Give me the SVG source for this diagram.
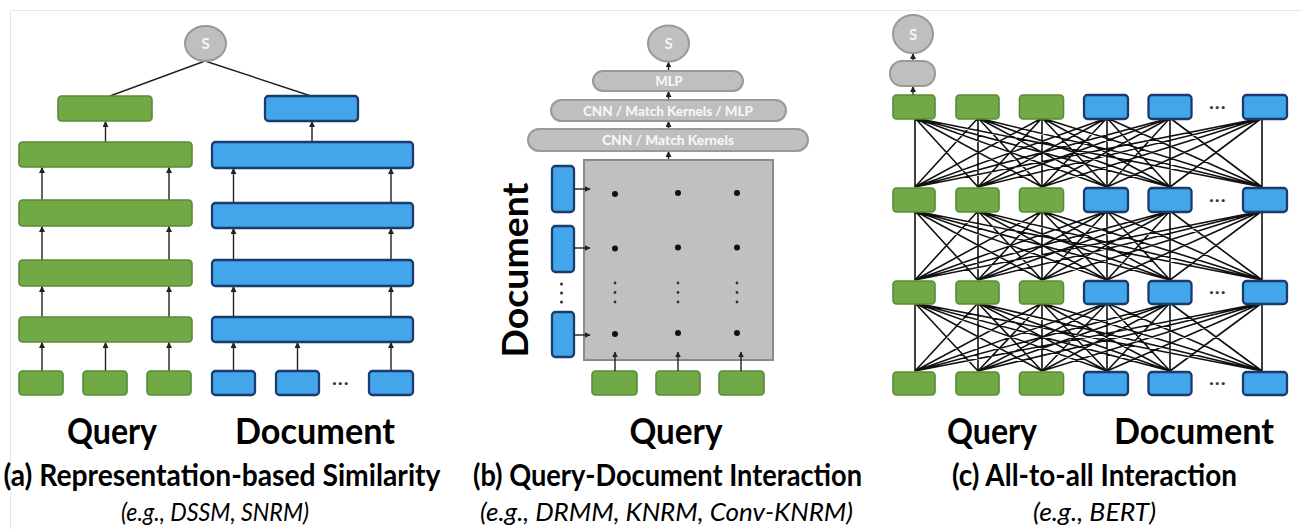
<svg xmlns="http://www.w3.org/2000/svg" width="1302" height="529" viewBox="0 0 1302 529">
  <style>
    .g { fill: #72a947; stroke: #5a8a38; stroke-width: 1.6; }
    .b { fill: #43a5ea; stroke: #1b3b6f; stroke-width: 2.3; }
    .gr { fill: #bfbfbf; stroke: #999; stroke-width: 2; }
    .ln { stroke: #222; stroke-width: 1.4; fill: none; }
    .mesh { stroke: #111; stroke-width: 1.6; fill: none; }
    .txt { font-family: Lato, "Open Sans", "Liberation Sans", sans-serif; font-weight: 700; fill: #000; text-anchor: middle; }
    .lbl { font-size: 36px; }
    .cap { font-size: 30px; }
    .sub { font-size: 26px; font-weight: 400; font-style: italic; }
    .wt { font-size: 13px; fill: #f6f6f6; font-weight: 900; }
    .s { font-size: 15px; fill: #f6f6f6; }
    .dots { font-size: 16px; fill: #333; letter-spacing: 1.5px; }
  </style>
  <defs>
    <marker id="ah" viewBox="0 0 10 10" refX="9" refY="5" markerWidth="6" markerHeight="6" markerUnits="userSpaceOnUse" orient="auto">
      <path d="M0,0 L10,5 L0,10 z" fill="#222"/>
    </marker>
  </defs>

  <!-- faint frame edge -->
  <path d="M10.5 529 V10.5 H1302" fill="none" stroke="#e6e6e6" stroke-width="1"/>

  <!-- ===== connectors ===== -->
  <g id="connectors">
    <!-- (a) score fan-in -->
    <line class="ln" x1="205" y1="61" x2="110" y2="96"/>
    <line class="ln" x1="205" y1="61" x2="311" y2="96"/>
    <!-- (a) query tower -->
    <line class="ln" x1="105.5" y1="142" x2="105.5" y2="121.5" marker-end="url(#ah)"/>
    <line class="ln" x1="42" y1="200" x2="42" y2="167.5" marker-end="url(#ah)"/>
    <line class="ln" x1="169" y1="200" x2="169" y2="167.5" marker-end="url(#ah)"/>
    <line class="ln" x1="42" y1="260" x2="42" y2="226.5" marker-end="url(#ah)"/>
    <line class="ln" x1="169" y1="260" x2="169" y2="226.5" marker-end="url(#ah)"/>
    <line class="ln" x1="42" y1="317" x2="42" y2="286.5" marker-end="url(#ah)"/>
    <line class="ln" x1="169" y1="317" x2="169" y2="286.5" marker-end="url(#ah)"/>
    <line class="ln" x1="42" y1="371" x2="42" y2="342.5" marker-end="url(#ah)"/>
    <line class="ln" x1="105.5" y1="371" x2="105.5" y2="342.5" marker-end="url(#ah)"/>
    <line class="ln" x1="169" y1="371" x2="169" y2="342.5" marker-end="url(#ah)"/>
    <!-- (a) document tower -->
    <line class="ln" x1="312" y1="142" x2="312" y2="121.5" marker-end="url(#ah)"/>
    <line class="ln" x1="233.5" y1="203" x2="233.5" y2="168.5" marker-end="url(#ah)"/>
    <line class="ln" x1="391" y1="203" x2="391" y2="168.5" marker-end="url(#ah)"/>
    <line class="ln" x1="233.5" y1="260" x2="233.5" y2="228.5" marker-end="url(#ah)"/>
    <line class="ln" x1="391" y1="260" x2="391" y2="228.5" marker-end="url(#ah)"/>
    <line class="ln" x1="233.5" y1="317" x2="233.5" y2="286.5" marker-end="url(#ah)"/>
    <line class="ln" x1="391" y1="317" x2="391" y2="286.5" marker-end="url(#ah)"/>
    <line class="ln" x1="233.5" y1="371" x2="233.5" y2="342.5" marker-end="url(#ah)"/>
    <line class="ln" x1="297.5" y1="371" x2="297.5" y2="342.5" marker-end="url(#ah)"/>
    <line class="ln" x1="391" y1="371" x2="391" y2="342.5" marker-end="url(#ah)"/>

    <!-- (b) stack -->
    <line class="ln" x1="668.5" y1="71" x2="668.5" y2="62" marker-end="url(#ah)"/>
    <line class="ln" x1="668.5" y1="100" x2="668.5" y2="91.5" marker-end="url(#ah)"/>
    <line class="ln" x1="668.5" y1="129" x2="668.5" y2="121.5" marker-end="url(#ah)"/>
    <line class="ln" x1="668.5" y1="160" x2="668.5" y2="151.5" marker-end="url(#ah)"/>

    <!-- (c) head -->
    <line class="ln" x1="913" y1="95" x2="913" y2="86.5" marker-end="url(#ah)"/>
    <line class="ln" x1="913" y1="61" x2="913" y2="53.5" marker-end="url(#ah)"/>

    <!-- (c) all-to-all mesh, layer 1 -> 2 -->
    <path class="mesh" d="M915 118L915 187M915 118L978 187M915 118L1042 187M915 118L1107 187M915 118L1170 187M915 118L1262 187
      M978 118L915 187M978 118L978 187M978 118L1042 187M978 118L1107 187M978 118L1170 187M978 118L1262 187
      M1042 118L915 187M1042 118L978 187M1042 118L1042 187M1042 118L1107 187M1042 118L1170 187M1042 118L1262 187
      M1107 118L915 187M1107 118L978 187M1107 118L1042 187M1107 118L1107 187M1107 118L1170 187M1107 118L1262 187
      M1170 118L915 187M1170 118L978 187M1170 118L1042 187M1170 118L1107 187M1170 118L1170 187M1170 118L1262 187
      M1262 118L915 187M1262 118L978 187M1262 118L1042 187M1262 118L1107 187M1262 118L1170 187M1262 118L1262 187"/>
    <!-- layer 2 -> 3 -->
    <path class="mesh" d="M915 211L915 280M915 211L978 280M915 211L1042 280M915 211L1107 280M915 211L1170 280M915 211L1262 280
      M978 211L915 280M978 211L978 280M978 211L1042 280M978 211L1107 280M978 211L1170 280M978 211L1262 280
      M1042 211L915 280M1042 211L978 280M1042 211L1042 280M1042 211L1107 280M1042 211L1170 280M1042 211L1262 280
      M1107 211L915 280M1107 211L978 280M1107 211L1042 280M1107 211L1107 280M1107 211L1170 280M1107 211L1262 280
      M1170 211L915 280M1170 211L978 280M1170 211L1042 280M1170 211L1107 280M1170 211L1170 280M1170 211L1262 280
      M1262 211L915 280M1262 211L978 280M1262 211L1042 280M1262 211L1107 280M1262 211L1170 280M1262 211L1262 280"/>
    <!-- layer 3 -> 4 -->
    <path class="mesh" d="M915 303L915 371M915 303L978 371M915 303L1042 371M915 303L1107 371M915 303L1170 371M915 303L1262 371
      M978 303L915 371M978 303L978 371M978 303L1042 371M978 303L1107 371M978 303L1170 371M978 303L1262 371
      M1042 303L915 371M1042 303L978 371M1042 303L1042 371M1042 303L1107 371M1042 303L1170 371M1042 303L1262 371
      M1107 303L915 371M1107 303L978 371M1107 303L1042 371M1107 303L1107 371M1107 303L1170 371M1107 303L1262 371
      M1170 303L915 371M1170 303L978 371M1170 303L1042 371M1170 303L1107 371M1170 303L1170 371M1170 303L1262 371
      M1262 303L915 371M1262 303L978 371M1262 303L1042 371M1262 303L1107 371M1262 303L1170 371M1262 303L1262 371"/>
  </g>

  <!-- ===== (a) Representation-based Similarity ===== -->
  <g id="a-score">
    <ellipse class="gr" cx="205.5" cy="43.5" rx="20.5" ry="17.5"/>
    <text class="txt s" x="205.5" y="49">S</text>
  </g>
  <g id="a-query-tower">
    <rect class="g" x="58" y="96" width="94" height="25" rx="3.5"/>
    <rect class="g" x="19" y="142" width="173" height="25" rx="3.5"/>
    <rect class="g" x="19" y="200" width="173" height="26" rx="3.5"/>
    <rect class="g" x="19" y="260" width="173" height="26" rx="3.5"/>
    <rect class="g" x="19" y="317" width="173" height="25" rx="3.5"/>
  </g>
  <g id="a-query-tokens">
    <rect class="g" x="19" y="371" width="44" height="24" rx="3.5"/>
    <rect class="g" x="83" y="371" width="44" height="24" rx="3.5"/>
    <rect class="g" x="147" y="371" width="44" height="24" rx="3.5"/>
  </g>
  <g id="a-doc-tower">
    <rect class="b" x="265" y="96" width="93" height="25" rx="3.5"/>
    <rect class="b" x="212" y="142" width="201" height="26" rx="3.5"/>
    <rect class="b" x="212" y="203" width="201" height="25" rx="3.5"/>
    <rect class="b" x="212" y="260" width="201" height="26" rx="3.5"/>
    <rect class="b" x="212" y="317" width="201" height="25" rx="3.5"/>
  </g>
  <g id="a-doc-tokens">
    <rect class="b" x="212" y="371" width="43" height="24" rx="3.5"/>
    <rect class="b" x="276" y="371" width="43" height="24" rx="3.5"/>
    <rect class="b" x="369" y="371" width="44" height="24" rx="3.5"/>
    <text class="txt dots" x="341" y="388">···</text>
  </g>
  <g id="a-labels">
    <text class="txt lbl" x="112" y="444" textLength="90" lengthAdjust="spacingAndGlyphs">Query</text>
    <text class="txt lbl" x="315" y="444" textLength="160" lengthAdjust="spacingAndGlyphs">Document</text>
    <text class="txt cap" x="222" y="486" textLength="437" lengthAdjust="spacingAndGlyphs">(a) Representation-based Similarity</text>
    <text class="txt sub" x="215" y="521" textLength="188" lengthAdjust="spacingAndGlyphs">(e.g., DSSM, SNRM)</text>
  </g>

  <!-- ===== (b) Query-Document Interaction ===== -->
  <g id="b-score">
    <ellipse class="gr" cx="668.5" cy="43.5" rx="20.5" ry="18"/>
    <text class="txt s" x="668.5" y="49">S</text>
  </g>
  <g id="b-mlp">
    <rect class="gr" x="593" y="71" width="150" height="20" rx="10"/>
    <text class="txt wt" x="669" y="85.5" textLength="27" lengthAdjust="spacingAndGlyphs">MLP</text>
  </g>
  <g id="b-mid">
    <rect class="gr" x="551" y="100" width="235" height="21" rx="10.5"/>
    <text class="txt wt" x="668" y="115.5" textLength="170" lengthAdjust="spacingAndGlyphs">CNN / Match Kernels / MLP</text>
  </g>
  <g id="b-low">
    <rect class="gr" x="528" y="129" width="280" height="22" rx="11"/>
    <text class="txt wt" x="668" y="145" textLength="132" lengthAdjust="spacingAndGlyphs">CNN / Match Kernels</text>
  </g>
  <g id="b-matrix">
    <rect x="584" y="160" width="189" height="200" fill="#c0c0c0" stroke="#8a8a8a" stroke-width="2"/>
    <g fill="#111">
      <circle cx="615" cy="194" r="3"/><circle cx="678" cy="193" r="3"/><circle cx="737" cy="193" r="3"/>
      <circle cx="615" cy="248.5" r="3"/><circle cx="678" cy="247.5" r="3"/><circle cx="737" cy="247.5" r="3"/>
      <circle cx="615" cy="334" r="3"/><circle cx="678" cy="333" r="3"/><circle cx="737" cy="333" r="3"/>
    </g>
    <g fill="#333">
      <circle cx="615" cy="283" r="1.4"/><circle cx="615" cy="292.5" r="1.4"/><circle cx="615" cy="302" r="1.4"/>
      <circle cx="678" cy="283" r="1.4"/><circle cx="678" cy="292.5" r="1.4"/><circle cx="678" cy="302" r="1.4"/>
      <circle cx="737" cy="283" r="1.4"/><circle cx="737" cy="292.5" r="1.4"/><circle cx="737" cy="302" r="1.4"/>
    </g>
  </g>
  <g id="b-doc-tokens">
    <rect class="b" x="552" y="166" width="22" height="46" rx="3.5"/>
    <rect class="b" x="552" y="226" width="22" height="46" rx="3.5"/>
    <rect class="b" x="552" y="312" width="22" height="45" rx="3.5"/>
    <g fill="#333">
      <circle cx="561.5" cy="284" r="1.5"/><circle cx="561.5" cy="293" r="1.5"/><circle cx="561.5" cy="302" r="1.5"/>
    </g>
    <line class="ln" x1="574" y1="189" x2="590" y2="189" marker-end="url(#ah)"/>
    <line class="ln" x1="574" y1="248" x2="590" y2="248" marker-end="url(#ah)"/>
    <line class="ln" x1="574" y1="335" x2="590" y2="335" marker-end="url(#ah)"/>
  </g>
  <g id="b-query-tokens">
    <rect class="g" x="592" y="371" width="45" height="24" rx="3.5"/>
    <rect class="g" x="656" y="371" width="44" height="24" rx="3.5"/>
    <rect class="g" x="719" y="371" width="45" height="24" rx="3.5"/>
    <line class="ln" x1="615" y1="371" x2="615" y2="352" marker-end="url(#ah)"/>
    <line class="ln" x1="678" y1="371" x2="678" y2="352" marker-end="url(#ah)"/>
    <line class="ln" x1="741" y1="371" x2="741" y2="352" marker-end="url(#ah)"/>
  </g>
  <g id="b-labels">
    <text class="txt lbl" transform="translate(528 270) rotate(-90)" x="0" y="0" textLength="175" lengthAdjust="spacingAndGlyphs">Document</text>
    <text class="txt lbl" x="676" y="444" textLength="93" lengthAdjust="spacingAndGlyphs">Query</text>
    <text class="txt cap" x="667.5" y="486" textLength="389" lengthAdjust="spacingAndGlyphs">(b) Query-Document Interaction</text>
    <text class="txt sub" x="666.5" y="521" textLength="373" lengthAdjust="spacingAndGlyphs">(e.g., DRMM, KNRM, Conv-KNRM)</text>
  </g>

  <!-- ===== (c) All-to-all Interaction ===== -->
  <g id="c-score">
    <ellipse class="gr" cx="913" cy="34" rx="20" ry="19"/>
    <text class="txt s" x="913" y="39.5">S</text>
  </g>
  <g id="c-head">
    <rect class="gr" x="890" y="61" width="45" height="25" rx="12"/>
  </g>
  <g id="c-layer1">
    <rect class="g" x="893" y="95" width="42" height="24" rx="3.5"/>
    <rect class="g" x="956" y="95" width="43" height="24" rx="3.5"/>
    <rect class="g" x="1019.5" y="95" width="44" height="24" rx="3.5"/>
    <rect class="b" x="1084" y="95" width="44" height="24" rx="3.5"/>
    <rect class="b" x="1148.5" y="95" width="43" height="24" rx="3.5"/>
    <rect class="b" x="1243" y="95" width="44" height="24" rx="3.5"/>
    <text class="txt dots" x="1218" y="112">···</text>
  </g>
  <g id="c-layer2">
    <rect class="g" x="893" y="188" width="42" height="24" rx="3.5"/>
    <rect class="g" x="956" y="188" width="43" height="24" rx="3.5"/>
    <rect class="g" x="1019.5" y="188" width="44" height="24" rx="3.5"/>
    <rect class="b" x="1084" y="188" width="44" height="24" rx="3.5"/>
    <rect class="b" x="1148.5" y="188" width="43" height="24" rx="3.5"/>
    <rect class="b" x="1243" y="188" width="44" height="24" rx="3.5"/>
    <text class="txt dots" x="1218" y="205">···</text>
  </g>
  <g id="c-layer3">
    <rect class="g" x="893" y="281" width="42" height="23" rx="3.5"/>
    <rect class="g" x="956" y="281" width="43" height="23" rx="3.5"/>
    <rect class="g" x="1019.5" y="281" width="44" height="23" rx="3.5"/>
    <rect class="b" x="1084" y="281" width="44" height="23" rx="3.5"/>
    <rect class="b" x="1148.5" y="281" width="43" height="23" rx="3.5"/>
    <rect class="b" x="1243" y="281" width="44" height="23" rx="3.5"/>
    <text class="txt dots" x="1218" y="297">···</text>
  </g>
  <g id="c-layer4">
    <rect class="g" x="893" y="372" width="42" height="23" rx="3.5"/>
    <rect class="g" x="956" y="372" width="43" height="23" rx="3.5"/>
    <rect class="g" x="1019.5" y="372" width="44" height="23" rx="3.5"/>
    <rect class="b" x="1084" y="372" width="44" height="23" rx="3.5"/>
    <rect class="b" x="1148.5" y="372" width="43" height="23" rx="3.5"/>
    <rect class="b" x="1243" y="372" width="44" height="23" rx="3.5"/>
    <text class="txt dots" x="1218" y="388">···</text>
  </g>
  <g id="c-labels">
    <text class="txt lbl" x="992" y="444" textLength="90" lengthAdjust="spacingAndGlyphs">Query</text>
    <text class="txt lbl" x="1194" y="444" textLength="160" lengthAdjust="spacingAndGlyphs">Document</text>
    <text class="txt cap" x="1094.5" y="486" textLength="285" lengthAdjust="spacingAndGlyphs">(c) All-to-all Interaction</text>
    <text class="txt sub" x="1094.5" y="521" textLength="123" lengthAdjust="spacingAndGlyphs">(e.g., BERT)</text>
  </g>
</svg>
